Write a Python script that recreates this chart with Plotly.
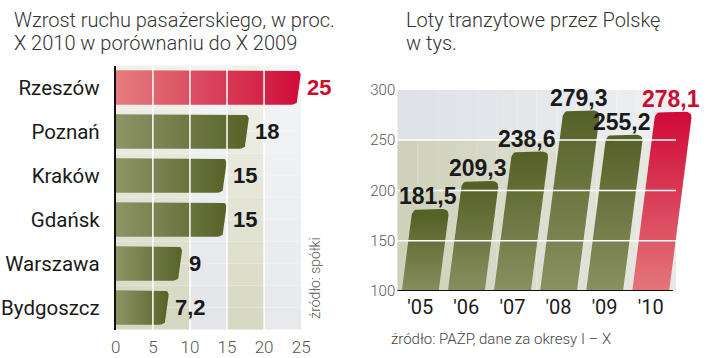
import numpy as np
import plotly.graph_objects as go

# ---------------- data ----------------
cities = ["Rzeszów", "Poznań", "Kraków", "Gdańsk", "Warszawa", "Bydgoszcz"]
growth = [25, 18, 15, 15, 9, 7.2]
growth_labels = ["25", "18", "15", "15", "9", "7,2"]
growth_ticks = [0, 5, 10, 15, 20, 25]
highlight_city = "Rzeszów"

years = ["'05", "'06", "'07", "'08", "'09", "'10"]
flights = [181.5, 209.3, 238.6, 279.3, 255.2, 278.1]
flight_labels = ["181,5", "209,3", "238,6", "279,3", "255,2", "278,1"]
flight_ticks = [100, 150, 200, 250, 300]
highlight_year = "'10"

# ---------------- layout geometry ----------------
W, H = 720, 358
L_X = (113, 302)      # px
L_Y = (59.5, 337.5)   # px (top, bottom)
R_UNIT = 47.0         # px per category on right chart
R_RANGE = [-0.5, 6.0]
R_X = (400, 400 + R_UNIT * (R_RANGE[1] - R_RANGE[0]))
R_Y = (85, 297)
R_END = 5.55          # right edge of the right plot's frame (category units)

def dom_x(a, b):
    return [a / W, b / W]

def dom_y(top, bottom):
    return [(H - bottom) / H, (H - top) / H]

# px per data unit for rounding corners
L_SX = (L_X[1] - L_X[0]) / 25.0
L_SY = (L_Y[1] - L_Y[0]) / 6.0
R_SX = R_UNIT
R_SY = (R_Y[1] - R_Y[0]) / 200.0


def rounded(pts, idx, r, sx, sy, n=7):
    P = [np.array([p[0] * sx, p[1] * sy], float) for p in pts]
    out = []
    N = len(P)
    for i, p in enumerate(P):
        if i in idx:
            a, b = P[i - 1], P[(i + 1) % N]
            u = (a - p) / np.linalg.norm(a - p)
            v = (b - p) / np.linalg.norm(b - p)
            p1, p2 = p + u * r, p + v * r
            for t in np.linspace(0, 1, n):
                out.append((1 - t) ** 2 * p1 + 2 * (1 - t) * t * p + t ** 2 * p2)
        else:
            out.append(p)
    out.append(out[0])
    xs = [q[0] / sx for q in out]
    ys = [q[1] / sy for q in out]
    return xs, ys


OLIVE_LIGHT, OLIVE_DARK = "#8d9466", "#566127"
RED_LIGHT, RED_DARK = "#e57d7f", "#cf0a36"
RED_TEXT = "#c8102e"

fig = go.Figure()

# ---------- left chart: horizontal bars ----------
half_h = 0.39
slant_l = 4 / L_SX
for i, (c, v) in enumerate(zip(cities, growth)):
    pts = [(0, i - half_h), (v, i - half_h), (v - slant_l, i + half_h), (0, i + half_h)]
    xs, ys = rounded(pts, [1, 2], 6, L_SX, L_SY)
    hl = c == highlight_city
    fig.add_trace(go.Scatter(
        x=xs, y=ys, mode="lines", fill="toself", line=dict(width=0),
        fillgradient=dict(type="horizontal", start=0, stop=v,
                          colorscale=[[0, RED_LIGHT if hl else OLIVE_LIGHT],
                                      [1, RED_DARK if hl else OLIVE_DARK]]),
        hoverinfo="skip", showlegend=False, xaxis="x", yaxis="y"))
    fig.add_annotation(x=v, y=i, xref="x", yref="y", text=growth_labels[i],
                       showarrow=False, xanchor="left", xshift=4,
                       font=dict(family="Liberation Sans, Arial", size=22,
                                 color=RED_TEXT if hl else "#1a1a1a", weight=700))

# ---------- right chart: slanted columns ----------
bar_w = 0.8
slope = 0.125
for i, (yr, v) in enumerate(zip(years, flights)):
    s = slope * (v - 100) * R_SY / R_SX
    pts = [(i - bar_w / 2, 100), (i + bar_w / 2, 100),
           (i + bar_w / 2 + s, v), (i - bar_w / 2 + s, v)]
    xs, ys = rounded(pts, [2, 3], 7, R_SX, R_SY)
    hl = yr == highlight_year
    fig.add_trace(go.Scatter(
        x=xs, y=ys, mode="lines", fill="toself", line=dict(width=0),
        fillgradient=dict(type="vertical", start=100, stop=v,
                          colorscale=[[0, RED_LIGHT if hl else OLIVE_LIGHT],
                                      [1, RED_DARK if hl else OLIVE_DARK]]),
        hoverinfo="skip", showlegend=False, xaxis="x2", yaxis="y2"))
    fig.add_annotation(x=i + s, y=v, xref="x2", yref="y2", text=flight_labels[i],
                       showarrow=False, yanchor="bottom", xshift=-3, yshift=-2,
                       font=dict(family="Liberation Sans, Arial", size=23,
                                 color=RED_TEXT if hl else "#1a1a1a", weight=700))

# ---------- backgrounds ----------
def mix(c1, c2, t):
    a = [int(c1[k:k + 2], 16) for k in (1, 3, 5)]
    b = [int(c2[k:k + 2], 16) for k in (1, 3, 5)]
    return "#" + "".join(f"{round(x + (y - x) * t):02x}" for x, y in zip(a, b))

shapes = []
# left: bands fading upward
bands = [(0, 10, "#f2f2ee", "#d5d6bf"), (10, 15, "#f3f4f5", "#e3e5e9"),
         (15, 20, "#f2f2ee", "#d7d8c1"), (20, 25, "#f3f4f5", "#e7e9ec")]
NS = 12
for x0, x1, ctop, cbot in bands:
    for k in range(NS):
        shapes.append(dict(type="rect", xref="x", yref="y domain", x0=x0, x1=x1,
                           y0=k / NS, y1=(k + 1) / NS, layer="below", line=dict(width=0),
                           fillcolor=mix(cbot, ctop, (k + 0.5) / NS)))
# right: horizontal gradient, two zones
NV = 14
span = R_END - R_RANGE[0]
for k in range(NV):
    t = (k + 0.5) / NV
    x0 = R_RANGE[0] + span * k / NV
    x1 = R_RANGE[0] + span * (k + 1) / NV
    shapes.append(dict(type="rect", xref="x2", yref="y2", x0=x0, x1=x1, y0=250, y1=300,
                       layer="below", line=dict(width=0), fillcolor=mix("#dde0e5", "#eef0f2", t)))
    shapes.append(dict(type="rect", xref="x2", yref="y2", x0=x0, x1=x1, y0=100, y1=250,
                       layer="below", line=dict(width=0), fillcolor=mix("#cfd0b8", "#e9eae6", t)))

# white grid lines above bars
for gx in growth_ticks[1:-1]:
    shapes.append(dict(type="line", xref="x", yref="y domain", x0=gx, x1=gx, y0=0, y1=1,
                       layer="above", line=dict(color="white", width=1.5)))
for gy in flight_ticks[1:-1]:
    shapes.append(dict(type="line", xref="x2", yref="y2", x0=R_RANGE[0], x1=R_END,
                       y0=gy, y1=gy, layer="above", line=dict(color="white", width=1.5)))
# baseline of the right chart
shapes.append(dict(type="line", xref="x2", yref="y2", x0=R_RANGE[0], x1=5.48,
                   y0=flight_ticks[0], y1=flight_ticks[0], layer="above",
                   line=dict(color="#111111", width=2)))

# ---------- texts ----------
TITLE_FONT = dict(family="Roboto", size=20, color="#333333", weight=300)

def py(px):
    return 1 - px / H

texts = [
    ("Wzrost ruchu pasażerskiego, w proc.", 7, 12),
    ("X 2010 w porównaniu do X 2009", 7, 36),
    ("Loty tranzytowe przez Polskę", 407, 12),
    ("w tys.", 407, 36),
]
for t, x, y in texts:
    fig.add_annotation(text=t, x=x / W, y=py(y), xref="paper", yref="paper",
                       xanchor="left", yanchor="middle", showarrow=False, font=TITLE_FONT)

fig.add_annotation(text="źródło: spółki", x=316 / W, y=py(283), xref="paper", yref="paper",
                   textangle=-90, showarrow=False, xanchor="center", yanchor="middle",
                   font=dict(family="Roboto", size=14, color="#555555", weight=300))
fig.add_annotation(text="źródło: PAŻP, dane za okresy I – X", x=392 / W, y=py(347),
                   xref="paper", yref="paper", xanchor="left", yanchor="middle",
                   showarrow=False,
                   font=dict(family="Roboto", size=15, color="#444444", weight=300))

fig.update_layout(
    width=W, height=H, margin=dict(l=0, r=0, t=0, b=0),
    paper_bgcolor="white", plot_bgcolor="rgba(0,0,0,0)",
    shapes=shapes,
    xaxis=dict(domain=dom_x(*L_X), range=[0, 25], tickvals=growth_ticks,
               showgrid=False, zeroline=False, showline=False, ticks="",
               ticklabelstandoff=5,
               tickfont=dict(family="Roboto", size=17, color="#555555", weight=300),
               fixedrange=True),
    yaxis=dict(domain=dom_y(*L_Y), range=[5.5, -0.5], tickvals=list(range(len(cities))),
               ticktext=cities, showgrid=False, zeroline=False, showline=True,
               linecolor="#111111", linewidth=2, ticks="", ticklabelstandoff=10,
               tickfont=dict(family="Roboto", size=20.5, color="#1a1a1a"),
               fixedrange=True),
    xaxis2=dict(domain=dom_x(*R_X), range=R_RANGE, tickvals=list(range(len(years))),
                ticktext=years, anchor="y2", showgrid=False, zeroline=False,
                showline=False, ticks="", ticklabelstandoff=2,
                tickfont=dict(family="Roboto", size=20, color="#1a1a1a"),
                fixedrange=True),
    yaxis2=dict(domain=dom_y(*R_Y), range=[100, 300], tickvals=flight_ticks, anchor="x2",
                showgrid=False, zeroline=False, showline=False, ticks="",
                ticklabelstandoff=1,
                tickfont=dict(family="Roboto", size=15, color="#555555", weight=300),
                fixedrange=True),
)

fig.write_html("out.html", config={"displayModeBar": False},
               post_script="document.body.style.margin='0px';document.body.style.overflow='hidden';")
